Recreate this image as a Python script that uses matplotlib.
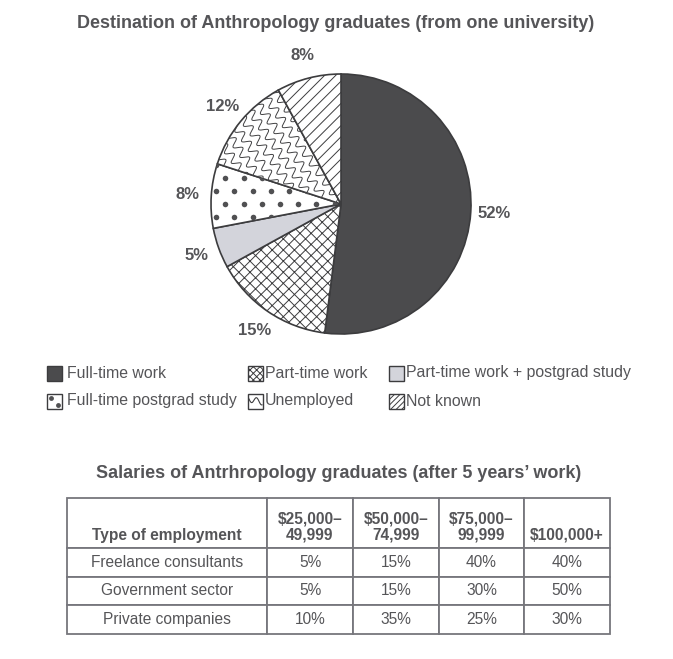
import numpy as np
import matplotlib
matplotlib.use('Agg')
import matplotlib.pyplot as plt
from matplotlib.patches import Rectangle
from matplotlib.transforms import Affine2D

plt.rcParams['font.family'] = ['Liberation Sans', 'DejaVu Sans']
plt.rcParams['hatch.linewidth'] = 0.7

# pie data
destinations = ['Full-time work', 'Part-time work', 'Part-time work + postgrad study',
                'Full-time postgrad study', 'Unemployed', 'Not known']
shares = [52, 15, 5, 8, 12, 8]

# table data
table_title = 'Salaries of Antrhropology graduates (after 5 years\u2019 work)'
salary_bands = ['$25,000\u2013\n49,999', '$50,000\u2013\n74,999', '$75,000\u2013\n99,999', '\n$100,000+']
employment = ['Freelance consultants', 'Government sector', 'Private companies']
freelance = ['5%', '15%', '40%', '40%']
government = ['5%', '15%', '30%', '50%']
private = ['10%', '35%', '25%', '30%']

W, H = 673, 659
txt = '#555558'
edge = '#3c3c3e'
dark = '#4b4b4d'
light = '#d3d4db'

fig = plt.figure(figsize=(W / 100, H / 100), dpi=100)
fig.patch.set_facecolor('white')

# background axes in pixel coords for titles and legend
bg = fig.add_axes([0, 0, 1, 1])
bg.set_xlim(0, W)
bg.set_ylim(H, 0)
bg.axis('off')

bg.text(336, 23, 'Destination of Anthropology graduates (from one university)',
        ha='center', va='center', fontsize=13, fontweight='bold', color=txt)
bg.text(339, 473, table_title, ha='center', va='center', fontsize=13,
        fontweight='bold', color=txt)

# pie
cx, cy, r = 341, 204, 130
pax = fig.add_axes([(cx - r) / W, 1 - (cy + r) / H, 2 * r / W, 2 * r / H])
colors = [dark, 'white', light, 'white', 'white', 'white']
hatches = ['', 'xxx', '', '', '', '///']
wedges, texts, autotexts = pax.pie(
    shares, startangle=90, counterclock=False, colors=colors, hatch=hatches,
    autopct=lambda p: f'{p:.0f}%', pctdistance=1.18,
    wedgeprops=dict(edgecolor=edge, linewidth=1.2),
    textprops=dict(fontsize=12, fontweight='bold', color=txt))
pax.set_xlim(-1, 1)
pax.set_ylim(-1, 1)
pax.set_aspect('equal')
pax.axis('off')

# dotted texture for full-time postgrad study
dot_wedge = wedges[3]
gx, gy = [], []
for j, yy in enumerate(np.arange(-1.1, 1.1, 0.1)):
    off = 0.07 if j % 2 else 0
    for xx in np.arange(-1.1, 1.1, 0.14):
        gx.append(xx + off)
        gy.append(yy)
dots, = pax.plot(gx, gy, 'o', color='#505052', markersize=4, markeredgewidth=0)
dots.set_clip_path(dot_wedge)

# wavy texture for unemployed
wave_wedge = wedges[4]
a = np.deg2rad(-55)
u = np.array([np.cos(a), np.sin(a)])
n = np.array([-np.sin(a), np.cos(a)])
t = np.linspace(-1.6, 1.6, 1200)
for c in np.arange(-1.6, 1.6, 0.08):
    wav = 0.03 * np.sin(2 * np.pi * t / 0.09)
    px = c * n[0] + t * u[0] + wav * n[0]
    py = c * n[1] + t * u[1] + wav * n[1]
    ln, = pax.plot(px, py, color='#404042', linewidth=0.7)
    ln.set_clip_path(wave_wedge)

# legend drawn by hand
legend_hatch = ['', 'xxxxx', '', '', '', '//////']
legend_pos = [(47, 373, 67), (248, 373, 265), (389, 373, 406),
              (47, 401, 67), (248, 401, 265), (389, 401, 406)]
for i, (sx, sy, tx) in enumerate(legend_pos):
    s = 15
    bg.add_patch(Rectangle((sx, sy - s / 2), s, s, facecolor=colors[i],
                           hatch=legend_hatch[i], edgecolor=edge, linewidth=1.0))
    if i == 3:
        bg.plot([sx + 4, sx + 11], [sy - 3, sy + 4], 'o', color='#505052',
                markersize=3.5, markeredgewidth=0)
    if i == 4:
        tt = np.linspace(0, 1, 60)
        bg.plot(sx + 1 + 13 * tt, sy - 2 + 3 * np.sin(2 * np.pi * tt * 1.3) + 3 * tt,
                color=edge, linewidth=0.8)
    bg.text(tx, sy, destinations[i], ha='left', va='center', fontsize=11.4, color=txt)

# table
tl, tt_, tr, tb = 67, 498, 610, 634
tax = fig.add_axes([tl / W, 1 - tb / H, (tr - tl) / W, (tb - tt_) / H])
tax.axis('off')
cell_text = [[employment[0]] + freelance,
             [employment[1]] + government,
             [employment[2]] + private]
col_w = np.array([200, 86, 86, 85, 86]) / 543
tab = tax.table(cellText=cell_text, colLabels=['\nType of employment'] + salary_bands,
                colWidths=list(col_w), cellLoc='center', bbox=[0, 0, 1, 1])
tab.auto_set_font_size(False)
for (row, col), cell in tab.get_celld().items():
    cell.set_edgecolor('#76767c')
    cell.set_linewidth(1.3)
    cell.set_height(50 if row == 0 else 28.7)
    cell.get_text().set_color(txt)
    cell.get_text().set_fontsize(11.2)
    if row == 0:
        cell.get_text().set_fontweight('bold')
        cell.get_text().set_linespacing(1.1)
        cell.get_text().set_transform(Affine2D().translate(0, -4))

fig.savefig('out.png', dpi=100, facecolor='white')
